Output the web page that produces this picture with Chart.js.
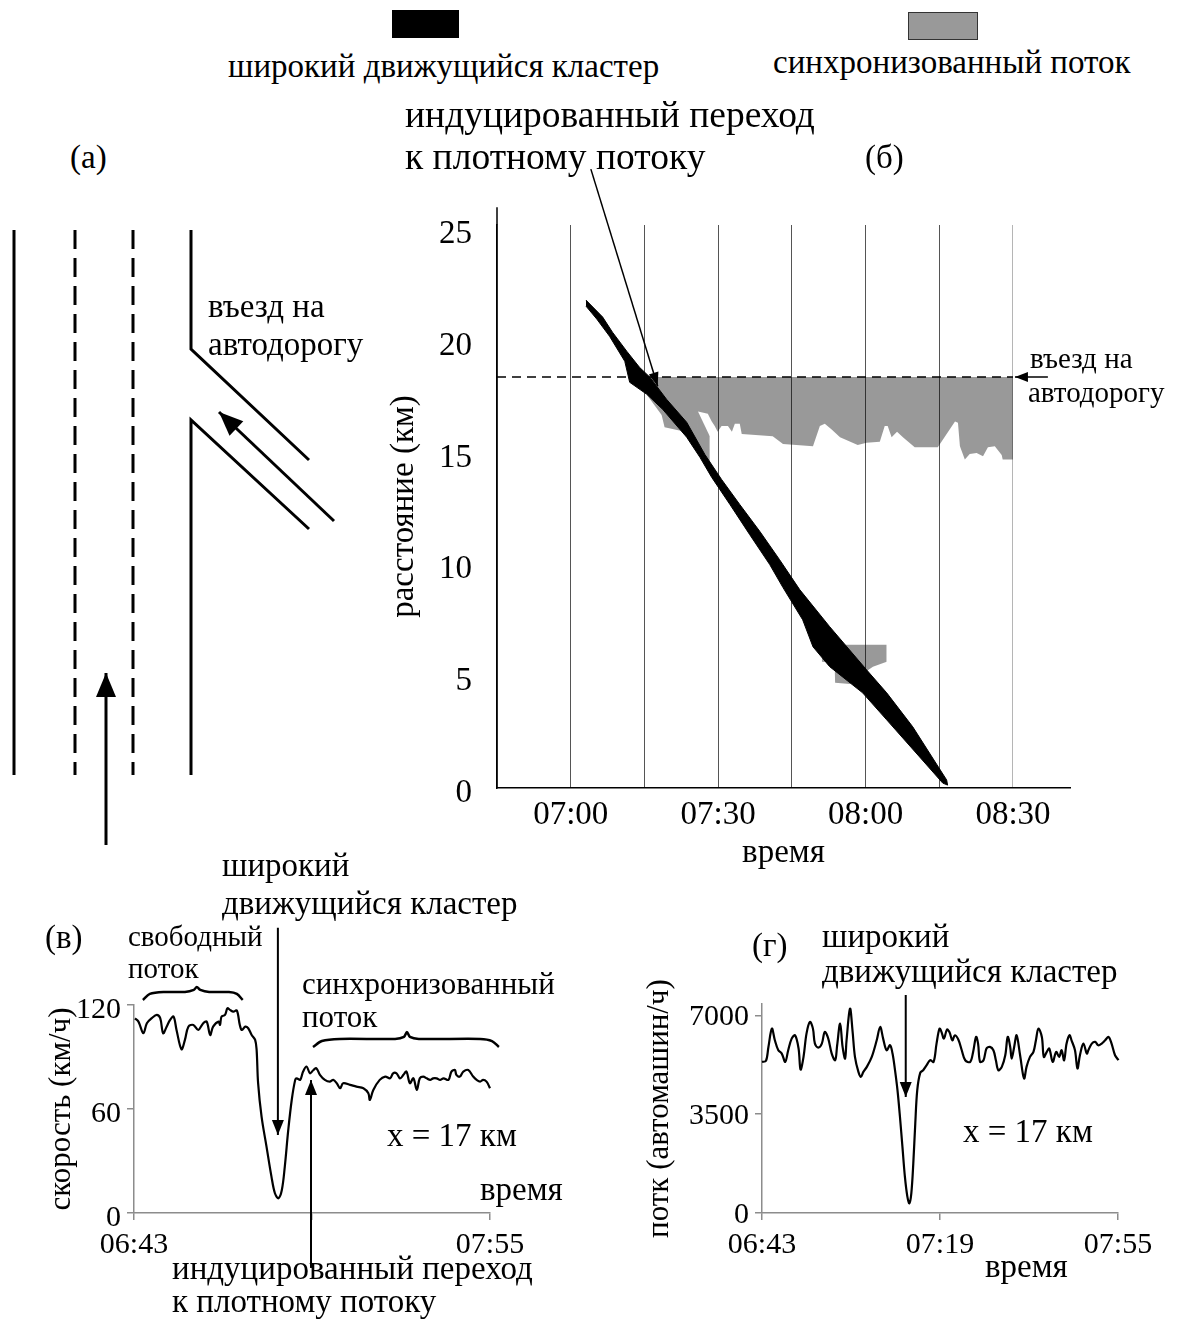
<!DOCTYPE html>
<html lang="ru">
<head>
<meta charset="utf-8">
<title>Широкий движущийся кластер и синхронизованный поток</title>
<script src="https://cdn.jsdelivr.net/npm/chart.js@4.4.1/dist/chart.umd.min.js"></script>
<style>
  html, body { margin: 0; padding: 0; background: #fff; }
  #page { position: relative; width: 1177px; height: 1324px; overflow: hidden;
          font-family: 'Liberation Serif', 'Times New Roman', serif; color: #000; }
  #page canvas { position: absolute; }
  .t { position: absolute; font-size: 33px; line-height: 33px; white-space: nowrap; z-index: 2; }
  .s { font-size: 29px; line-height: 29px; }
  .key { position: absolute; }
</style>
</head>
<body>
<div id="page">
  <!-- legend -->
  <div class="key" style="left:392px;top:10px;width:67px;height:28px;background:#000"></div>
  <div class="key" style="left:908px;top:12px;width:68px;height:26px;background:#999;border:1px solid #333"></div>
  <div class="t" style="left:228px;top:50px">широкий движущийся кластер</div>
  <div class="t" style="left:773px;top:46px">синхронизованный поток</div>

  <div class="t" style="left:405px;top:96px;font-size:37.5px;line-height:37.5px">индуцированный переход</div>
  <div class="t" style="left:405px;top:138px;font-size:37.5px;line-height:37.5px">к плотному потоку</div>
  <div class="t" style="left:70px;top:141px">(а)</div>
  <div class="t" style="left:865px;top:141px">(б)</div>
  <div class="t" style="left:208px;top:290px">въезд на</div>
  <div class="t" style="left:208px;top:328px">автодорогу</div>
  <div class="t s" style="left:1030px;top:344px">въезд на</div>
  <div class="t s" style="left:1028px;top:378px">автодорогу</div>

  <div class="t" style="left:222px;top:849px">широкий</div>
  <div class="t" style="left:222px;top:887px">движущийся кластер</div>
  <div class="t" style="left:45px;top:921px">(в)</div>
  <div class="t s" style="left:128px;top:922px">свободный</div>
  <div class="t s" style="left:128px;top:954px">поток</div>
  <div class="t" style="left:302px;top:968px;font-size:31px;line-height:31px">синхронизованный</div>
  <div class="t" style="left:302px;top:1001px;font-size:31px;line-height:31px">поток</div>
  <div class="t" style="left:387px;top:1119px">x = 17 км</div>
  <div class="t" style="left:480px;top:1173px">время</div>
  <div class="t" style="left:172px;top:1252px">индуцированный переход</div>
  <div class="t" style="left:172px;top:1285px">к плотному потоку</div>

  <div class="t" style="left:752px;top:929px">(г)</div>
  <div class="t" style="left:822px;top:920px">широкий</div>
  <div class="t" style="left:822px;top:955px">движущийся кластер</div>
  <div class="t" style="left:963px;top:1115px">x = 17 км</div>
  <div class="t" style="left:985px;top:1250px">время</div>

  <canvas id="road" width="380" height="630" style="left:0;top:220px"></canvas>
  <canvas id="map" width="797" height="790" style="left:380px;top:100px"></canvas>
  <canvas id="speed" width="600" height="464" style="left:0;top:860px"></canvas>
  <canvas id="flow" width="557" height="464" style="left:620px;top:860px"></canvas>
</div>

<script>
// (а) road sketch, in sketch units (x to the right, y downwards)
const roadEdgeLeft = [[14, 230], [14, 775]];
const laneMarkA = [[75, 230], [75, 775]];
const laneMarkB = [[133, 230], [133, 775]];
const roadEdgeUpper = [[191, 230], [191, 349], [309, 460]];
const roadEdgeLower = [[309, 529], [191, 420], [191, 775]];
const rampArrow = [[334, 521], [219, 412]];
const mainArrow = [[106, 845], [106, 673]];

// (б) time (minutes after midnight) vs distance (km)
const jamUpper = [[423.1, 21.84], [426.5, 21.08], [428.5, 20.40], [431.4, 19.55], [434.0, 18.83],
  [436.1, 18.39], [439.5, 17.40], [443.6, 16.37], [447.3, 14.93], [450.7, 13.81], [454.4, 12.69],
  [458.5, 11.48], [462.5, 10.22], [466.6, 8.88], [472.7, 7.22], [480.2, 5.29], [484.3, 4.26],
  [489.6, 2.74], [496.5, 0.36], [496.7, 0.13]];
const jamLower = [[423.1, 21.57], [425.3, 20.99], [427.9, 20.22], [431.0, 19.10], [432.0, 18.16],
  [435.5, 17.62], [438.7, 16.95], [443.6, 15.70], [446.3, 14.80], [448.7, 13.90], [452.4, 12.69],
  [456.4, 11.35], [460.5, 10.00], [463.2, 8.97], [467.2, 7.53], [469.3, 6.32], [472.7, 5.43],
  [479.4, 4.26], [484.3, 3.05], [491.0, 1.39], [495.7, 0.22], [496.7, 0.13]];
const syncTop = [[435.5, 18.4], [510.0, 18.4]];
const syncBottom = [[435.5, 17.6], [438.5, 16.7], [439.1, 16.15], [444.2, 15.9], [445.8, 15.4],
  [445.9, 16.85], [447.9, 16.75], [448.7, 16.4], [449.3, 16.2], [449.9, 15.95], [450.7, 16.2],
  [452.0, 16.2], [452.8, 15.95], [453.4, 16.3], [454.4, 16.3], [454.8, 15.85], [461.1, 15.75],
  [463.2, 15.4], [469.3, 15.3], [470.7, 16.2], [471.7, 16.3], [473.1, 16.05], [474.8, 15.7],
  [478.4, 15.35], [480.2, 15.45], [482.9, 15.5], [483.9, 16.2], [484.5, 16.2], [485.3, 15.7],
  [486.4, 15.95], [487.6, 15.7], [490.0, 15.25], [494.7, 15.25], [498.2, 16.4], [498.8, 16.35],
  [499.2, 15.3], [500.2, 14.7], [501.2, 14.95], [502.6, 15.0], [503.9, 14.85], [504.9, 15.25],
  [506.3, 15.3], [507.7, 14.9], [507.9, 14.7], [510.0, 14.7]];
const wedgeTop = [[445.9, 16.85], [448.3, 15.75]];
const wedgeBottom = [[445.9, 15.2], [448.3, 14.6]];
const patchTop = [[471.1, 5.87], [472.7, 6.19], [475.8, 6.41], [484.3, 6.41]];
const patchBottom = [[471.1, 5.65], [473.7, 5.61], [473.8, 4.71], [476.8, 4.66], [480.0, 5.20],
  [481.5, 5.43], [484.3, 5.65]];
const onRampKm = 18.4;
const onRampLine = [[405, onRampKm], [510, onRampKm]];
const inducedArrow = [[424.1, 27.7], [437.7, 17.98]];
const onRampArrow = [[517.1, onRampKm], [510.4, onRampKm]];
const distanceAxisTop = [[405, 25.2], [405, 26]];
const mapTimeLabels = [420, 450, 480, 510];

// (в) speed at x = 17 km, minutes after 06:43
const speedMin = [0.2, 0.9, 1.9, 2.6, 3.6, 4.6, 5.3, 5.9, 6.6, 7.3, 8.0, 8.6, 9.6, 10.3, 11.0, 12.0,
  13.0, 14.0, 14.7, 15.4, 16.0, 17.1, 17.4, 17.7, 18.4, 18.9, 19.4, 20.1, 20.8, 21.4, 21.8, 22.5,
  23.1, 23.8, 24.5, 24.8, 25.1, 25.8, 26.8, 27.8, 28.5, 29.2, 29.9, 30.5, 31.2, 31.9, 32.6, 32.9,
  33.6, 34.2, 34.9, 35.6, 36.3, 36.9, 37.6, 38.6, 39.6, 40.3, 41.0, 41.7, 42.3, 43.7, 45.0, 46.4,
  47.4, 47.7, 48.4, 49.7, 50.8, 51.8, 52.4, 53.1, 53.8, 54.5, 55.1, 55.8, 56.5, 57.2, 57.8, 58.5,
  59.2, 59.9, 60.5, 61.2, 61.9, 62.6, 63.6, 64.2, 64.9, 65.2, 65.9, 66.6, 67.6, 68.6, 69.3, 70.0,
  70.6, 71.3, 72.0];
const speedKmh = [112.3, 110.4, 103.7, 109.5, 112.4, 114.3, 112.4, 103.7, 107.5, 111.4, 113.3,
  105.6, 94.5, 99.9, 107.5, 108.5, 105.6, 109.5, 110.4, 102.7, 107.5, 110.4, 108.5, 113.3, 114.3,
  118.1, 117.2, 116.2, 116.8, 108.5, 105.6, 107.5, 106.6, 102.7, 99.9, 94.1, 74.9, 55.6, 38.3, 21.0,
  11.4, 8.5, 13.3, 26.8, 47.9, 65.2, 76.8, 77.7, 76.8, 81.6, 84.5, 80.6, 82.5, 83.5, 79.7, 76.8,
  75.8, 76.8, 74.9, 72.0, 74.9, 73.9, 72.9, 72.0, 69.1, 65.2, 71.0, 76.8, 78.7, 77.7, 80.6, 80.6,
  77.7, 79.7, 81.6, 74.9, 77.7, 71.0, 77.7, 78.7, 77.7, 76.8, 77.7, 77.7, 76.8, 77.7, 76.8, 81.6,
  82.5, 79.7, 78.7, 81.6, 82.5, 78.7, 76.8, 75.8, 76.8, 75.8, 72.0];
const freeFlowBrace = [[1.8, 122.9], [3.2, 126.4], [6.3, 127.5], [10.3, 127.5], [12.1, 128.7],
  [12.7, 130.4], [13.4, 128.7], [15.2, 127.5], [19.2, 127.5], [20.8, 126.4], [22.0, 122.9]];
const syncFlowBrace = [[36.2, 95.8], [38.0, 99.2], [41.6, 100.4], [52.8, 100.4], [54.6, 101.6],
  [55.2, 104.4], [55.8, 101.6], [57.6, 100.4], [70.0, 100.4], [72.4, 99.2], [73.8, 95.8]];
const jamArrowSpeed = [[29.1, 164.5], [29.1, 45.0]];
const inducedArrowSpeed = [[35.8, -31.7], [35.8, 76.7]];
const speedTicks = [0, 60, 120];
const speedTimeLabels = {0: '06:43', 72: '07:55'};

// (г) flow at x = 17 km, vehicles/h
const flowMin = [0, 0.8, 1.3, 2.0, 2.6, 3.3, 4.0, 4.7, 5.3, 6.0, 6.7, 7.4, 7.8, 8.4, 9.0, 9.7, 10.3,
  10.7, 11.4, 12.1, 12.7, 13.4, 14.1, 14.8, 15.2, 15.8, 16.3, 16.8, 17.1, 17.8, 18.3, 18.8, 19.5,
  20.0, 20.5, 21.2, 22.2, 23.2, 23.9, 24.5, 25.2, 25.9, 26.4, 26.9, 27.4, 27.9, 28.4, 28.9, 29.4,
  29.8, 30.2, 30.6, 31.0, 31.4, 32.0, 32.6, 33.3, 34.0, 34.7, 35.3, 35.9, 36.3, 36.8, 37.4, 37.9,
  38.5, 39.0, 39.7, 40.4, 41.1, 42.1, 42.7, 43.3, 43.7, 44.1, 44.8, 45.4, 46.1, 46.8, 47.3, 47.8,
  48.5, 49.2, 49.7, 50.2, 50.5, 51.0, 51.5, 52.2, 53.0, 53.5, 54.2, 54.9, 55.4, 55.9, 56.6, 57.0,
  57.6, 58.1, 58.8, 59.5, 60.1, 60.6, 61.1, 61.6, 62.2, 62.6, 63.3, 63.8, 64.3, 65.0, 65.7, 66.0,
  66.7, 67.4, 68.0, 68.7, 69.4, 70.1, 70.7, 71.4, 72.1];
const flowVehH = [5350, 5386, 5880, 6528, 6116, 5763, 5645, 5350, 5763, 6175, 6293, 5822, 5079, 5527,
  6352, 6764, 6528, 5998, 5857, 5998, 6411, 6175, 5645, 5409, 5939, 6705, 5880, 5468, 6116, 7235,
  6469, 5527, 4997, 4820, 4997, 5174, 5527, 6116, 6587, 6175, 5763, 5939, 5645, 5056, 4349, 3407,
  2347, 1286, 579, 344, 697, 1757, 3171, 4349, 4962, 5056, 5233, 5409, 5350, 5998, 6528, 6411,
  6175, 6493, 6411, 6116, 6293, 6140, 5763, 5409, 5350, 5704, 6234, 5998, 5350, 5409, 5822, 5880,
  5763, 5409, 5056, 5174, 5586, 6234, 5880, 5468, 5880, 6293, 5586, 4761, 5174, 5527, 5704, 6116,
  6528, 6234, 5527, 5704, 5822, 5350, 5704, 5527, 5763, 5409, 5998, 6293, 6116, 5763, 5115, 5586,
  5998, 5645, 5763, 5998, 6057, 5939, 5998, 6116, 6234, 5998, 5586, 5409];
const jamArrowFlow = [[29.07, 7719], [29.07, 4107]];
const flowTicks = [0, 3500, 7000];
const flowTimeLabels = {0: '06:43', 36: '07:19', 72: '07:55'};

const GRAY = 'rgba(0,0,0,0.4)';
const AXIS = '#8c8c8c';

Chart.defaults.font.family = "'Liberation Serif', 'Times New Roman', serif";
Chart.defaults.color = '#000';

const hhmm = v => String(Math.floor(v / 60)).padStart(2, '0') + ':' + String(Math.round(v % 60)).padStart(2, '0');

const line = (pairs, extra) => Object.assign({
  data: pairs.map(([x, y]) => ({x, y})),
  borderColor: '#000', borderWidth: 2, pointRadius: 0, fill: false, tension: 0, clip: false
}, extra);

// filled triangle at the last point of datasets that carry an `arrow: [length, halfWidth]`
const arrowHeads = {
  id: 'arrowHeads',
  afterDatasetsDraw(chart) {
    const ctx = chart.ctx;
    chart.data.datasets.forEach((ds, i) => {
      if (!ds.arrow) return;
      const pts = chart.getDatasetMeta(i).data;
      const tip = pts[pts.length - 1], prev = pts[pts.length - 2];
      const a = Math.atan2(tip.y - prev.y, tip.x - prev.x);
      const [len, half] = ds.arrow;
      const bx = tip.x - len * Math.cos(a), by = tip.y - len * Math.sin(a);
      ctx.save();
      ctx.fillStyle = ds.borderColor;
      ctx.beginPath();
      ctx.moveTo(tip.x, tip.y);
      ctx.lineTo(bx + half * Math.sin(a), by - half * Math.cos(a));
      ctx.lineTo(bx - half * Math.sin(a), by + half * Math.cos(a));
      ctx.closePath();
      ctx.fill();
      ctx.restore();
    });
  }
};

const base = {
  responsive: false,
  animation: false,
  events: [],
  plugins: {legend: {display: false}, tooltip: {enabled: false}}
};

// (а)
new Chart(document.getElementById('road'), {
  type: 'line',
  data: {datasets: [
    line(roadEdgeLeft, {borderWidth: 3}),
    line(laneMarkA, {borderWidth: 3, borderDash: [19, 9]}),
    line(laneMarkB, {borderWidth: 3, borderDash: [19, 9]}),
    line(roadEdgeUpper, {borderWidth: 3}),
    line(roadEdgeLower, {borderWidth: 3}),
    line(rampArrow, {borderWidth: 3, arrow: [24, 10]}),
    line(mainArrow, {borderWidth: 3, arrow: [24, 10]})
  ]},
  options: Object.assign({}, base, {
    layout: {padding: 0},
    scales: {
      x: {type: 'linear', display: false, min: 0, max: 380},
      y: {type: 'linear', display: false, min: 220, max: 850, reverse: true}
    }
  }),
  plugins: [arrowHeads]
});

// (б)
new Chart(document.getElementById('map'), {
  type: 'line',
  data: {datasets: [
    line(jamUpper, {borderWidth: 1, order: 1}),
    line(jamLower, {borderWidth: 1, backgroundColor: '#000', fill: '-1', order: 1}),
    line(syncTop, {borderWidth: 0, order: 3}),
    line(syncBottom, {borderWidth: 0, backgroundColor: GRAY, fill: '-1', order: 3}),
    line(wedgeTop, {borderWidth: 0, order: 3}),
    line(wedgeBottom, {borderWidth: 0, backgroundColor: GRAY, fill: '-1', order: 3}),
    line(patchTop, {borderWidth: 0, order: 3}),
    line(patchBottom, {borderWidth: 0, backgroundColor: GRAY, fill: '-1', order: 3}),
    line(onRampLine, {borderWidth: 1.5, borderDash: [9, 6], order: 2}),
    line(distanceAxisTop, {borderWidth: 1.5, order: 2}),
    line(inducedArrow, {borderWidth: 1.5, arrow: [14, 5], order: 0}),
    line(onRampArrow, {borderWidth: 1.5, arrow: [13, 5], order: 0})
  ]},
  options: Object.assign({}, base, {
    layout: {padding: {top: 125, right: 107, left: 0, bottom: 0}},
    scales: {
      x: {
        type: 'linear', min: 405, max: 521.6,
        afterFit: s => { s.height = 102; },
        ticks: {stepSize: 15, includeBounds: false, autoSkip: false, maxRotation: 0, padding: 8,
                font: {size: 33}, callback: v => mapTimeLabels.includes(v) ? hhmm(v) : ''},
        grid: {drawTicks: false, lineWidth: 1,
               color: c => c.tick && c.tick.value === 510 ? '#b5b5b5' : '#555'},
        border: {color: '#000', width: 1.5},
        title: {display: true, text: 'время', font: {size: 33}, padding: {top: 0, bottom: 17}}
      },
      y: {
        type: 'linear', min: 0, max: 25.2,
        afterFit: s => { s.width = 117; },
        ticks: {stepSize: 5, includeBounds: false, padding: 25, labelOffset: 5, font: {size: 33}},
        grid: {drawOnChartArea: false, drawTicks: false},
        border: {color: '#000', width: 1.5},
        title: {display: true, text: 'расстояние (км)', font: {size: 33}, padding: {top: 5, bottom: 0}}
      }
    }
  }),
  plugins: [arrowHeads]
});

// shared axes for the two detector panels
function panelScales(yMax, yTicks, yWidth, yLabelShift, yTitle, yTitlePad, timeLabels) {
  return {
    x: {
      type: 'linear',
      afterDataLimits: s => { s.min = 0; s.max = 72; },
      afterFit: s => { s.height = 111; },
      ticks: {stepSize: 36, autoSkip: false, maxRotation: 0, padding: 7, font: {size: 30},
              callback: v => timeLabels[v] || ''},
      grid: {drawOnChartArea: false, tickLength: 7, color: AXIS, lineWidth: 1.5},
      border: {color: AXIS, width: 1.5}
    },
    y: {
      type: 'linear', min: 0, max: yMax,
      afterFit: s => { s.width = yWidth; },
      afterBuildTicks: s => { s.ticks = yTicks.map(value => ({value})); },
      ticks: {padding: 6, labelOffset: yLabelShift, font: {size: 30}, callback: v => String(v)},
      grid: {drawOnChartArea: false, tickLength: 7, color: AXIS, lineWidth: 1.5},
      border: {color: AXIS, width: 1.5},
      title: {display: true, text: yTitle, font: {size: 31}, padding: {top: yTitlePad, bottom: 0}}
    }
  };
}

const zip = (xs, ys) => xs.map((x, i) => [x, ys[i]]);

// (в)
new Chart(document.getElementById('speed'), {
  type: 'line',
  data: {datasets: [
    line(zip(speedMin, speedKmh), {borderWidth: 2.2, tension: 0.35}),
    line(freeFlowBrace, {borderWidth: 2.5, tension: 0.3}),
    line(syncFlowBrace, {borderWidth: 2.5, tension: 0.3}),
    line(jamArrowSpeed, {borderWidth: 2, arrow: [15, 6]}),
    line(inducedArrowSpeed, {borderWidth: 2, arrow: [15, 6]})
  ]},
  options: Object.assign({}, base, {
    layout: {padding: {top: 145, right: 110, left: 0, bottom: 0}},
    scales: panelScales(120, speedTicks, 134, 5, 'скорость (км/ч)', 43, speedTimeLabels)
  }),
  plugins: [arrowHeads]
});

// (г)
new Chart(document.getElementById('flow'), {
  type: 'line',
  data: {datasets: [
    line(zip(flowMin, flowVehH), {borderWidth: 2.2, tension: 0.35}),
    line(jamArrowFlow, {borderWidth: 2, arrow: [15, 6]})
  ]},
  options: Object.assign({}, base, {
    layout: {padding: {top: 144, right: 59, left: 0, bottom: 0}},
    scales: panelScales(7400, flowTicks, 142, 2, 'потк (автомашин/ч)', 21, flowTimeLabels)
  }),
  plugins: [arrowHeads]
});
</script>
</body>
</html>
